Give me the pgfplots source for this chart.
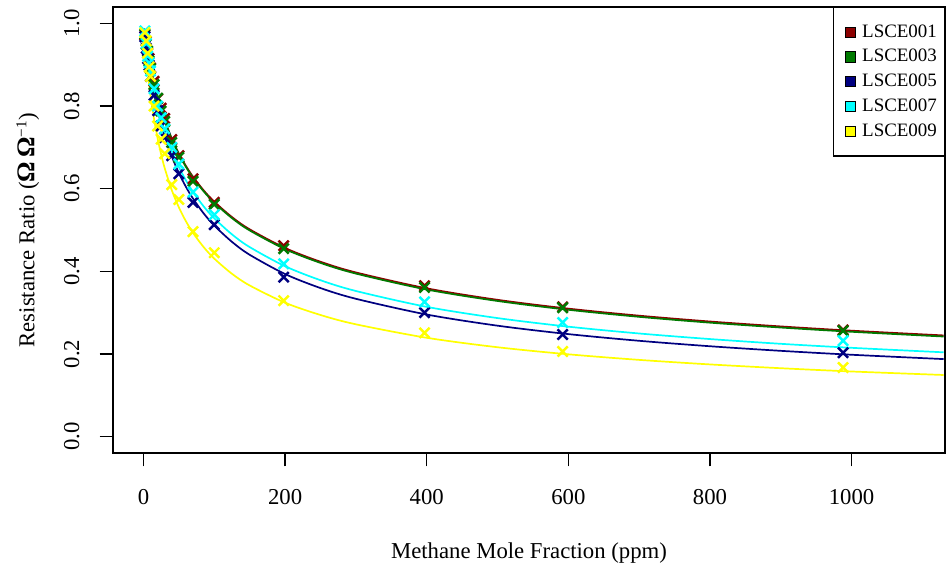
\documentclass[border=0pt]{standalone}
\usepackage{pgfplots}
\pgfplotsset{compat=1.18}
\usepackage{pgfplotstable}
\usepackage{fontspec}
\setmainfont{Liberation Serif}

\definecolor{cRed}{HTML}{8B0000}
\definecolor{cGreen}{HTML}{007A00}
\definecolor{cNavy}{HTML}{000080}
\definecolor{cCyan}{HTML}{00FFFF}
\definecolor{cYellow}{HTML}{FFFF00}

\pgfplotstableread{
x    r     g     n     c     yl
2    0.972 0.974 0.968 0.982 0.978
4    0.957 0.950 0.940 0.952 0.958
6    0.928 0.933 0.915 0.921 0.928
8    0.915 0.909 0.899 0.905 0.895
10   0.893 0.891 0.872 0.885 0.872
15   0.860 0.852 0.826 0.842 0.800
20   0.818 0.819 0.789 0.800 0.752
25   0.795 0.788 0.752 0.772 0.720
30   0.770 0.763 0.724 0.745 0.685
40   0.719 0.712 0.680 0.700 0.610
50   0.680 0.676 0.636 0.660 0.574
70   0.624 0.618 0.567 0.592 0.496
100  0.567 0.562 0.513 0.537 0.445
198  0.462 0.455 0.386 0.418 0.329
397  0.365 0.361 0.300 0.326 0.251
592  0.314 0.312 0.247 0.276 0.206
988  0.258 0.256 0.203 0.232 0.167
}\pts

\pgfplotstableread{
x    r      g      n      c      yl
1    0.9875 0.9874 0.9851 0.9858 0.9773
2    0.9755 0.9753 0.9709 0.9723 0.9562
4    0.9530 0.9526 0.9443 0.9470 0.9179
6    0.9322 0.9317 0.9199 0.9238 0.8840
8    0.9130 0.9124 0.8974 0.9023 0.8538
10   0.8952 0.8944 0.8766 0.8824 0.8265
15   0.8555 0.8545 0.8305 0.8383 0.7687
20   0.8215 0.8202 0.7914 0.8008 0.7220
25   0.7919 0.7905 0.7576 0.7682 0.6831
30   0.7658 0.7642 0.7280 0.7397 0.6501
40   0.7217 0.7199 0.6784 0.6918 0.5967
50   0.6855 0.6835 0.6381 0.6527 0.5550
60   0.6551 0.6529 0.6046 0.6201 0.5212
70   0.6290 0.6267 0.5761 0.5923 0.4932
85   0.5961 0.5937 0.5404 0.5573 0.4587
100  0.5686 0.5661 0.5109 0.5284 0.4308
125  0.5314 0.5288 0.4714 0.4895 0.3941
150  0.5017 0.4990 0.4401 0.4587 0.3658
200  0.4565 0.4537 0.3934 0.4123 0.3240
250  0.4232 0.4204 0.3595 0.3785 0.2943
300  0.3973 0.3945 0.3335 0.3524 0.2717
400  0.3588 0.3559 0.2954 0.3140 0.2391
500  0.3310 0.3282 0.2684 0.2868 0.2162
600  0.3097 0.3069 0.2480 0.2660 0.1991
700  0.2926 0.2898 0.2318 0.2495 0.1856
800  0.2785 0.2757 0.2186 0.2360 0.1746
900  0.2666 0.2639 0.2075 0.2245 0.1654
1000 0.2563 0.2536 0.1980 0.2148 0.1575
1130 0.2448 0.2421 0.1875 0.2039 0.1490
}\crv

\pgfplotsset{
  legsq/.style={legend image code/.code={
    \path[draw=none, fill=none] (0pt,-3pt) rectangle (11pt,3pt);
    \draw[fill=#1, draw=black, line width=0.5pt] (4.2pt,-2.7pt) rectangle (9.6pt,2.7pt);}},
  pts/.style={only marks, mark=x, mark size=3.8pt, color=#1, mark options={line width=1.3pt}, forget plot},
  crv/.style={smooth, color=#1, line width=0.9pt, no markers, forget plot}
}

\begin{document}
\begin{tikzpicture}
\useasboundingbox (-59.66pt,-63.3pt) rectangle (440.34pt,239.2pt);
\begin{axis}[
  at={(0pt,0pt)}, anchor=south west,
  scale only axis, width=439.3pt, height=235.5pt,
  xmin=-43, xmax=1132, ymin=-0.04, ymax=1.04,
  xtick={0,200,400,600,800,1000}, xticklabels={0,200,400,600,800,1000},
  ytick={0,0.2,0.4,0.6,0.8,1}, yticklabels={0.0,0.2,0.4,0.6,0.8,1.0},
  xtick pos=left, ytick pos=left,
  tick align=outside, major tick length=7pt,
  tick style={black, line width=0.7pt},
  axis line style={line width=0.8pt},
  tick label style={font=\fontsize{12}{14}\selectfont},
  xticklabel style={yshift=-8.8pt},
  yticklabel style={rotate=90, anchor=south, yshift=7.2pt},
  label style={font=\fontsize{12}{14}\selectfont},
  xlabel={Methane Mole Fraction (ppm)},
  xlabel style={at={(axis description cs:0.5,-0.2242)}, anchor=center},
  ylabel={Resistance Ratio ({\fontsize{13.5}{14}\selectfont\textbf{Ω}}\,{\fontsize{13.5}{14}\selectfont\textbf{Ω}}\textsuperscript{−1})},
  ylabel style={at={(axis description cs:-0.1024,0.5)}, anchor=center},
  legend style={at={(1,1)}, anchor=north east, draw=black, line width=0.6pt,
    fill=white, font=\fontsize{10}{11}\selectfont, inner xsep=2pt, inner ysep=7pt,
    row sep=0.9pt, cells={anchor=west}},
  legend cell align=left,
]
\addplot[pts=cRed] table[x=x,y=r] {\pts};
\addplot[crv=cRed] table[x=x,y=r] {\crv};
\addplot[pts=cGreen] table[x=x,y=g] {\pts};
\addplot[crv=cGreen] table[x=x,y=g] {\crv};
\addplot[pts=cNavy] table[x=x,y=n] {\pts};
\addplot[crv=cNavy] table[x=x,y=n] {\crv};
\addplot[pts=cCyan] table[x=x,y=c] {\pts};
\addplot[crv=cCyan] table[x=x,y=c] {\crv};
\addplot[pts=cYellow] table[x=x,y=yl] {\pts};
\addplot[crv=cYellow] table[x=x,y=yl] {\crv};
\addlegendimage{legsq=cRed}\addlegendentry{LSCE001}
\addlegendimage{legsq=cGreen}\addlegendentry{LSCE003}
\addlegendimage{legsq=cNavy}\addlegendentry{LSCE005}
\addlegendimage{legsq=cCyan}\addlegendentry{LSCE007}
\addlegendimage{legsq=cYellow}\addlegendentry{LSCE009}
\end{axis}
\end{tikzpicture}
\end{document}
